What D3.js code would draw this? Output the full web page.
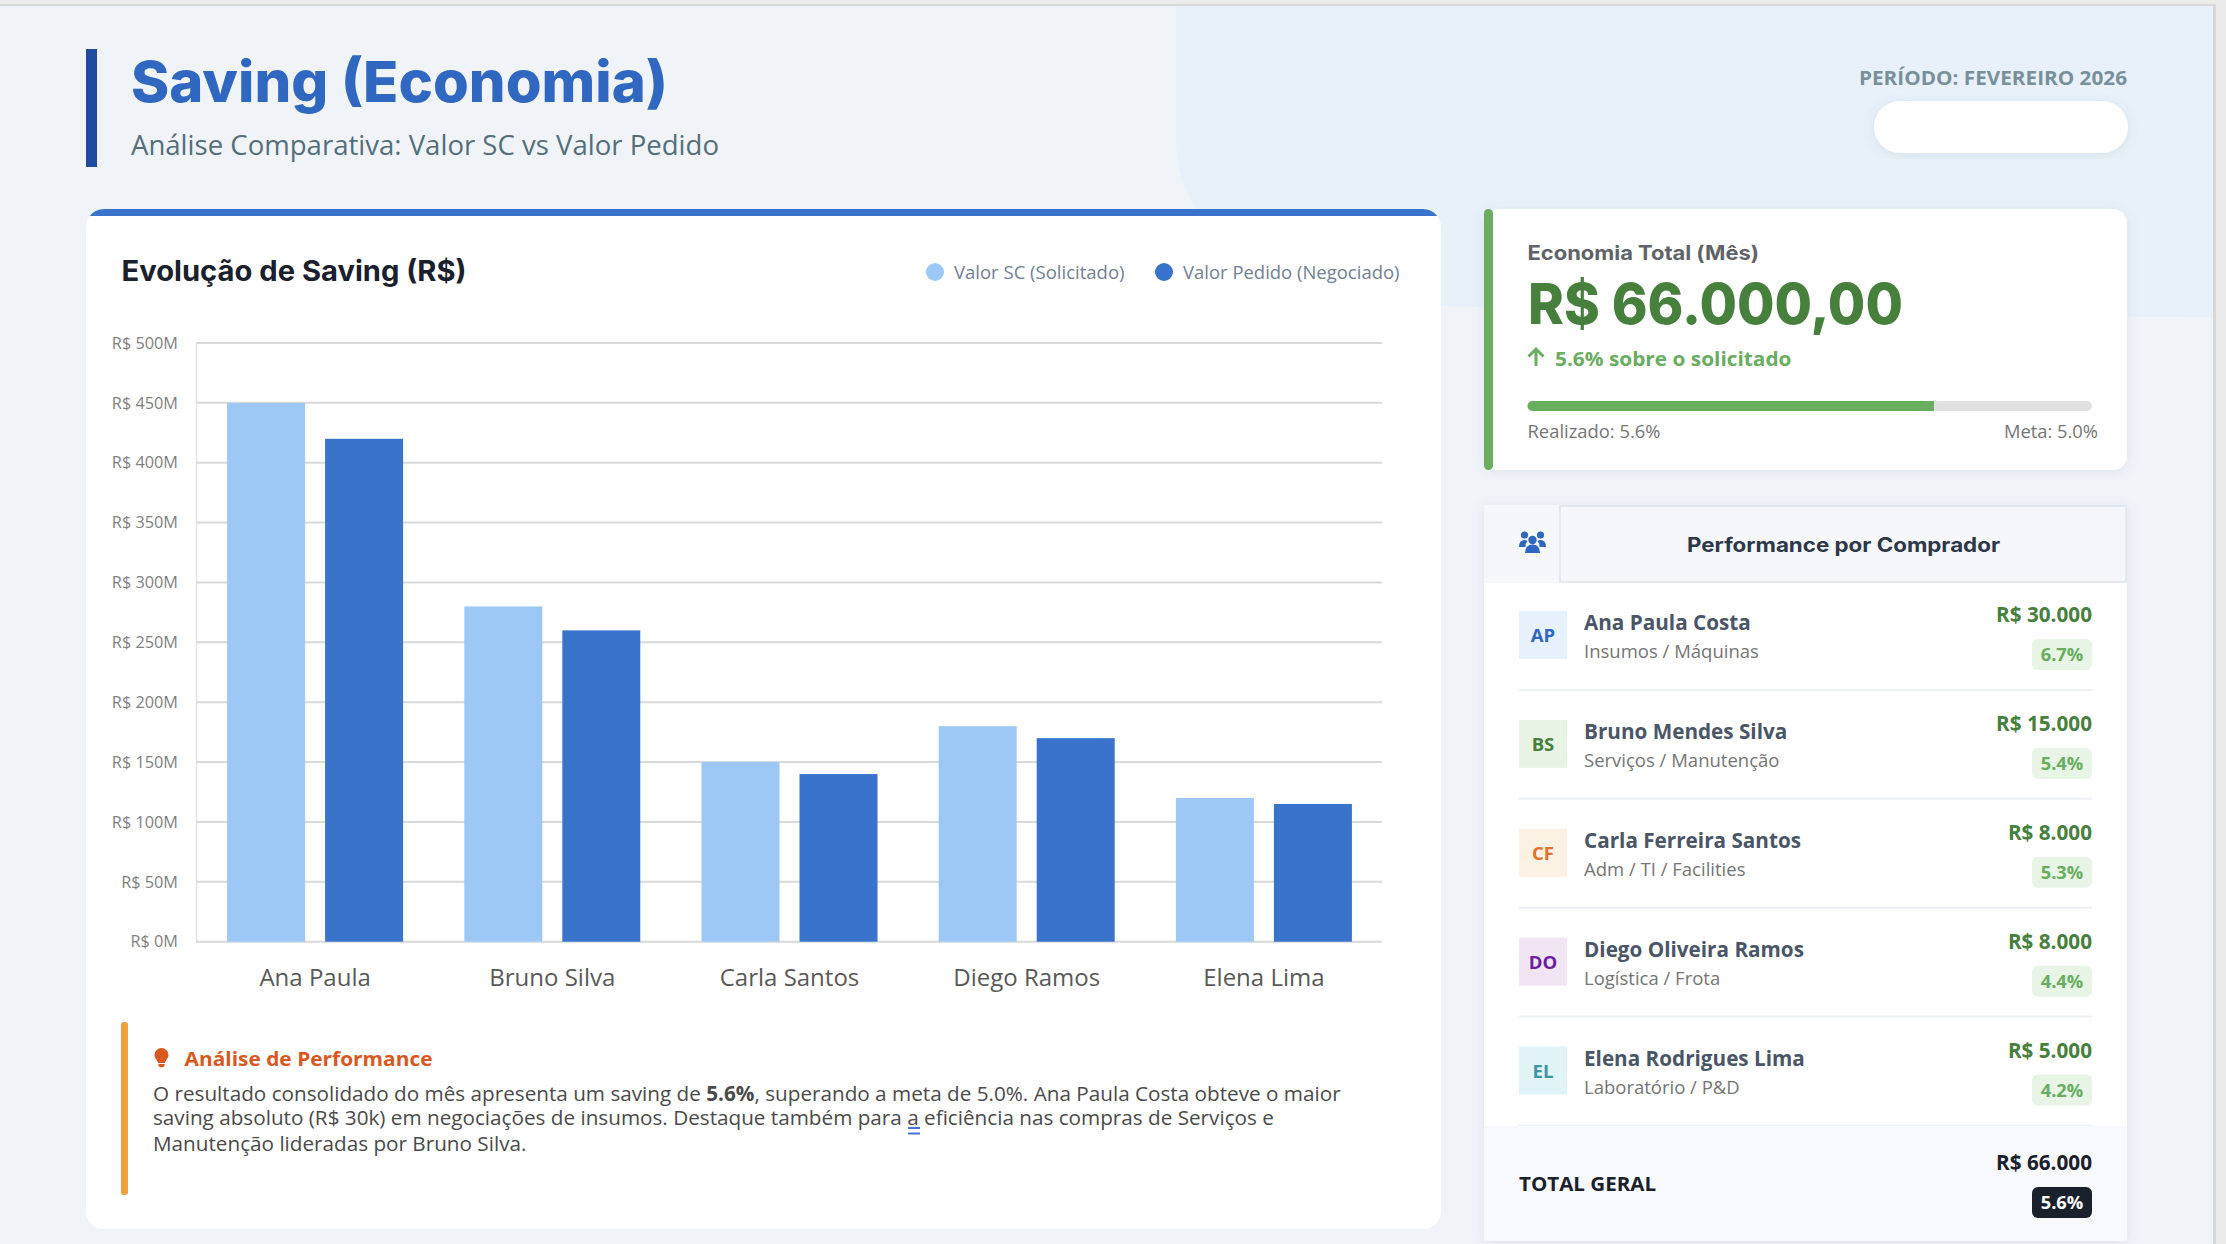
<!DOCTYPE html>
<html>
<head>
<meta charset="utf-8">
<title>Saving (Economia)</title>
<script src="https://cdn.jsdelivr.net/npm/d3@7"></script>
<style>
    html, body { margin: 0; padding: 0; background: #ececec; overflow: hidden; }
    svg { display: block; }
    text { font-family: "Open Sans", sans-serif; }
    .head { font-family: Inter, "Open Sans", sans-serif; }
</style>
</head>
<body>
<script>
// Chart values
const categories = ['Ana Paula', 'Bruno Silva', 'Carla Santos', 'Diego Ramos', 'Elena Lima'];
const valorSC = [450, 280, 150, 180, 120];
const valorPedido = [420, 260, 140, 170, 115];
const yTicks = [0, 50, 100, 150, 200, 250, 300, 350, 400, 450, 500];
const seriesNames = ['Valor SC (Solicitado)', 'Valor Pedido (Negociado)'];

// Buyer table
const compradores = ['Ana Paula Costa', 'Bruno Mendes Silva', 'Carla Ferreira Santos', 'Diego Oliveira Ramos', 'Elena Rodrigues Lima'];
const iniciais = ['AP', 'BS', 'CF', 'DO', 'EL'];
const areas = ['Insumos / Máquinas', 'Serviços / Manutenção', 'Adm / TI / Facilities', 'Logística / Frota', 'Laboratório / P&D'];
const savings = ['R$ 30.000', 'R$ 15.000', 'R$ 8.000', 'R$ 8.000', 'R$ 5.000'];
const percentuais = ['6.7%', '5.4%', '5.3%', '4.4%', '4.2%'];

// The progress bar fill as drawn, share of the track
const progresso = 0.72;

const avatarBg = ['#e6f1fb', '#e8f3e6', '#fcf2e3', '#f1e4f3', '#e2f3f8'];
const avatarFg = ['#2f66bf', '#47803d', '#e0702a', '#6a1fa3', '#3a95a5'];

const svg = d3.select('body').append('svg')
    .attr('width', 2226)
    .attr('height', 1244);

let shadow = svg.append('defs').append('filter')
    .attr('id', 'shadow')
    .attr('x', '-10%').attr('y', '-10%').attr('width', '120%').attr('height', '120%');
shadow.append('feDropShadow')
    .attr('dx', 0).attr('dy', 2).attr('stdDeviation', 6)
    .attr('flood-color', '#64748b').attr('flood-opacity', 0.13);

// Small helper, everything on the page is plain svg text. width squeezes a string to the reference's width.
function label(parent, x, y, str, size, color, opts) {
    opts = opts || {};
    let t = parent.append('text')
        .attr('x', x)
        .attr('y', y)
        .attr('font-size', size)
        .attr('fill', color)
        .attr('font-weight', opts.weight || 400)
        .attr('text-anchor', opts.anchor || 'start')
        .text(str);
    if (opts.head) t.attr('class', 'head');
    if (opts.width) t.attr('textLength', opts.width).attr('lengthAdjust', 'spacingAndGlyphs');
    return t;
}

function drawPage() {
    svg.append('rect').attr('width', 2226).attr('height', 1244).attr('fill', '#ececec');
    svg.append('rect').attr('x', 0).attr('y', 4).attr('width', 2216).attr('height', 1240).attr('fill', '#d8d8d8');
    svg.append('rect').attr('x', 0).attr('y', 6).attr('width', 2213).attr('height', 1238).attr('fill', '#f0f4f9');
    // the pale blob behind the header
    svg.append('path')
        .attr('d', 'M1176,6 V140 C1176,245 1290,297 1441,306 C1700,314 2000,317 2213,317 V6 Z')
        .attr('fill', '#e8f1f9');

    svg.append('rect').attr('x', 86).attr('y', 49).attr('width', 11).attr('height', 118).attr('fill', '#1f4aa0');
    label(svg, 131, 102, 'Saving (Economia)', 57, '#3067c0', { weight: 800, head: true, width: 537 });
    label(svg, 131, 154.5, 'Análise Comparativa: Valor SC vs Valor Pedido', 28, '#546e7a', { width: 588 });

    label(svg, 2127, 85, 'PERÍODO: FEVEREIRO 2026', 19.5, '#78909c', { weight: 700, anchor: 'end', width: 268 });
    svg.append('rect')
        .attr('x', 1874).attr('y', 101).attr('width', 254).attr('height', 52).attr('rx', 26)
        .attr('fill', '#fff').attr('filter', 'url(#shadow)');
}

function drawChart() {
    // white card, the blue edge only follows its rounding above y=216
    svg.append('rect')
        .attr('x', 86).attr('y', 209).attr('width', 1355).attr('height', 1020).attr('rx', 18)
        .attr('fill', '#fff');
    svg.append('path')
        .attr('d', 'M89.75,216 A18,18 0 0 1 104,209 H1423 A18,18 0 0 1 1437.25,216 Z')
        .attr('fill', '#3973cc');

    label(svg, 121.5, 280.5, 'Evolução de Saving (R$)', 28, '#1a202c', { weight: 700, head: true, width: 345 });

    const legendColors = ['#9dc8f5', '#3973cc'];
    const legendCx = [935, 1164];
    const legendW = [170.5, 216.5];
    seriesNames.forEach((name, i) => {
        svg.append('circle').attr('cx', legendCx[i]).attr('cy', 272).attr('r', 9).attr('fill', legendColors[i]);
        label(svg, legendCx[i] + 19, 279, name, 18, '#718096', { width: legendW[i] });
    });

    const x0 = d3.scaleBand()
        .domain(categories)
        .range([196.5, 1382.5])
        .paddingInner(0.258)
        .paddingOuter(0.129);
    const x1 = d3.scaleBand()
        .domain([0, 1])
        .range([0, x0.bandwidth()])
        .paddingInner(0.204);
    const y = d3.scaleLinear()
        .domain([0, 500])
        .range([941.7, 343]);

    const yAxis = d3.axisLeft(y)
        .tickValues(yTicks)
        .tickFormat((d) => 'R$ ' + d + 'M')
        .tickSize(0)
        .tickPadding(18);
    let gy = svg.append('g').attr('transform', 'translate(196,0)').call(yAxis);
    gy.select('.domain').attr('stroke', '#e0e3e8').attr('stroke-width', 1.5);
    gy.selectAll('text')
        .attr('font-size', 16.3)
        .attr('fill', '#7f7f7f')
        .attr('font-family', '"Open Sans", sans-serif');

    svg.append('g')
        .selectAll('line')
        .data(yTicks)
        .join('line')
            .attr('x1', 196)
            .attr('x2', 1382)
            .attr('y1', (d) => y(d))
            .attr('y2', (d) => y(d))
            .attr('stroke', '#d9d9d9')
            .attr('stroke-width', 2);

    [valorSC, valorPedido].forEach((values, s) => {
        svg.append('g')
            .selectAll('rect')
            .data(values)
            .join('rect')
                .attr('x', (d, i) => x0(categories[i]) + x1(s))
                .attr('width', x1.bandwidth())
                .attr('y', (d) => y(d))
                .attr('height', (d) => y(0) - y(d))
                .attr('fill', legendColors[s]);
    });

    const xAxis = d3.axisBottom(x0)
        .tickSize(0)
        .tickPadding(27);
    let gx = svg.append('g').attr('transform', 'translate(0,941.7)').call(xAxis);
    gx.select('.domain').remove();
    gx.selectAll('text')
        .attr('font-size', 24)
        .attr('fill', '#595959')
        .attr('font-family', '"Open Sans", sans-serif');

    // analysis note
    svg.append('rect').attr('x', 121).attr('y', 1022).attr('width', 7).attr('height', 173).attr('rx', 3).attr('fill', '#f2a03d');
    svg.append('path')
        .attr('d', 'M161.5,1048 a7,7 0 0 1 7,7 c0,3.4 -2.9,4.8 -3.6,8 h-6.8 c-0.7,-3.2 -3.6,-4.6 -3.6,-8 a7,7 0 0 1 7,-7 Z M158.4,1064 h6.2 v1.6 l-1.4,1.6 h-3.4 l-1.4,-1.6 Z')
        .attr('fill', '#d9581e');
    label(svg, 184.5, 1066, 'Análise de Performance', 20, '#d9581e', { weight: 700, width: 248 });

    let line1 = label(svg, 153, 1100.7, 'O resultado consolidado do mês apresenta um saving de ', 20.7, '#4a4a4a');
    line1.append('tspan').attr('font-weight', 700).text('5.6%');
    line1.append('tspan').text(', superando a meta de 5.0%. Ana Paula Costa obteve o maior');
    label(svg, 153, 1125, 'saving absoluto (R$ 30k) em negociações de insumos. Destaque também para a eficiência nas compras de Serviços e', 20.7, '#4a4a4a');
    label(svg, 153, 1150.7, 'Manutenção lideradas por Bruno Silva.', 20.7, '#4a4a4a');
    // spell-check style double underline under the lone "a"
    svg.append('rect').attr('x', 908).attr('y', 1127).attr('width', 12).attr('height', 2).attr('fill', '#4a74dd');
    svg.append('rect').attr('x', 908).attr('y', 1132.5).attr('width', 12).attr('height', 2).attr('fill', '#4a74dd');
}

function drawKpi() {
    svg.append('rect')
        .attr('x', 1484).attr('y', 209).attr('width', 643).attr('height', 261).attr('rx', 14)
        .attr('fill', '#fff').attr('filter', 'url(#shadow)');
    svg.append('rect').attr('x', 1484).attr('y', 209).attr('width', 9).attr('height', 261).attr('rx', 4.5).attr('fill', '#69ad5f');

    label(svg, 1527.5, 260, 'Economia Total (Mês)', 20, '#5f6368', { weight: 700, head: true, width: 231.5 });
    label(svg, 1528, 324, 'R$ 66.000,00', 57, '#47803d', { weight: 800, head: true, width: 375 });

    svg.append('path')
        .attr('d', 'M1536,366 V349.5 M1528.5,356.5 L1536,349 L1543.5,356.5')
        .attr('fill', 'none').attr('stroke', '#69ad5f').attr('stroke-width', 3);
    label(svg, 1555, 366, '5.6% sobre o solicitado', 20, '#69ad5f', { weight: 700, width: 236.5 });

    const track = d3.scaleLinear().domain([0, 1]).range([1527.5, 2092]);
    svg.append('rect')
        .attr('x', track(0)).attr('y', 401).attr('width', track(1) - track(0)).attr('height', 10).attr('rx', 5)
        .attr('fill', '#e0e0e0');
    svg.append('path')
        .attr('d', `M${track(progresso)},401 H${track(0) + 5} a5,5 0 0 0 0,10 H${track(progresso)} Z`)
        .attr('fill', '#69ad5f');
    label(svg, 1527.5, 438, 'Realizado: 5.6%', 17.5, '#757575', { width: 133 });
    label(svg, 2098, 438, 'Meta: 5.0%', 17.5, '#757575', { anchor: 'end', width: 94 });
}

function drawTable() {
    svg.append('rect')
        .attr('x', 1484).attr('y', 505).attr('width', 643).attr('height', 736)
        .attr('fill', '#fff').attr('filter', 'url(#shadow)');

    // header: icon cell and title cell
    svg.append('rect').attr('x', 1484).attr('y', 505).attr('width', 643).attr('height', 78).attr('fill', '#f5f7fb');
    svg.append('path')
        .attr('d', 'M1560,583 V506 H2126 V582 H1560')
        .attr('fill', 'none').attr('stroke', '#e4e9f1').attr('stroke-width', 2);
    let icon = svg.append('g').attr('fill', '#3067c0');
    icon.append('circle').attr('cx', 1524.5).attr('cy', 535).attr('r', 3.6);
    icon.append('circle').attr('cx', 1540.5).attr('cy', 535).attr('r', 3.6);
    icon.append('circle').attr('cx', 1532.5).attr('cy', 540).attr('r', 4.2);
    icon.append('path').attr('d', 'M1519,547 q0,-7 5.5,-7 q2,0 3,1 q-2,2 -2,6 Z');
    icon.append('path').attr('d', 'M1546,547 q0,-7 -5.5,-7 q-2,0 -3,1 q2,2 2,6 Z');
    icon.append('path').attr('d', 'M1525,553 q0,-8.5 7.5,-8.5 q7.5,0 7.5,8.5 Z');
    label(svg, 1687, 551.5, 'Performance por Comprador', 20, '#2d3748', { weight: 700, head: true, width: 313 });

    const rowY = d3.scaleBand()
        .domain(compradores)
        .range([581, 1125.5]);

    let rows = svg.append('g')
        .selectAll('g')
        .data(compradores)
        .join('g')
            .attr('transform', (d) => `translate(0,${rowY(d)})`);

    rows.append('line')
        .attr('x1', 1519).attr('x2', 2092)
        .attr('y1', rowY.bandwidth()).attr('y2', rowY.bandwidth())
        .attr('stroke', '#edf0f4').attr('stroke-width', 2);
    rows.append('rect')
        .attr('x', 1519).attr('y', 30).attr('width', 48).attr('height', 48)
        .attr('fill', (d, i) => avatarBg[i]);
    rows.append('text')
        .attr('x', 1543).attr('y', 61)
        .attr('text-anchor', 'middle')
        .attr('font-size', 18.5).attr('font-weight', 700)
        .attr('fill', (d, i) => avatarFg[i])
        .text((d, i) => iniciais[i]);
    rows.append('text')
        .attr('x', 1584).attr('y', 49)
        .attr('font-size', 20.7).attr('font-weight', 700)
        .attr('fill', '#4a5568')
        .text((d) => d);
    rows.append('text')
        .attr('x', 1584).attr('y', 77)
        .attr('font-size', 18.5)
        .attr('fill', '#757575')
        .text((d, i) => areas[i]);
    rows.append('text')
        .attr('x', 2092).attr('y', 41)
        .attr('text-anchor', 'end')
        .attr('font-size', 20.7).attr('font-weight', 700)
        .attr('fill', '#47803d')
        .text((d, i) => savings[i]);
    rows.append('rect')
        .attr('x', 2032).attr('y', 58).attr('width', 60).attr('height', 31).attr('rx', 6)
        .attr('fill', '#e8f4e6');
    rows.append('text')
        .attr('x', 2062).attr('y', 80)
        .attr('text-anchor', 'middle')
        .attr('font-size', 18.3).attr('font-weight', 700)
        .attr('fill', '#69ad5f')
        .text((d, i) => percentuais[i]);

    // total row
    svg.append('rect').attr('x', 1484).attr('y', 1126).attr('width', 643).attr('height', 115).attr('fill', '#f8f9fc');
    label(svg, 1519, 1191, 'TOTAL GERAL', 19.5, '#1a202c', { weight: 700, width: 137 });
    label(svg, 2092, 1170, 'R$ 66.000', 20.7, '#1a202c', { weight: 700, anchor: 'end' });
    svg.append('rect').attr('x', 2032).attr('y', 1187).attr('width', 60).attr('height', 31).attr('rx', 6).attr('fill', '#1a202c');
    label(svg, 2062, 1209, '5.6%', 18.3, '#fff', { weight: 700, anchor: 'middle' });
}

drawPage();
drawChart();
drawKpi();
drawTable();
</script>
</body>
</html>
